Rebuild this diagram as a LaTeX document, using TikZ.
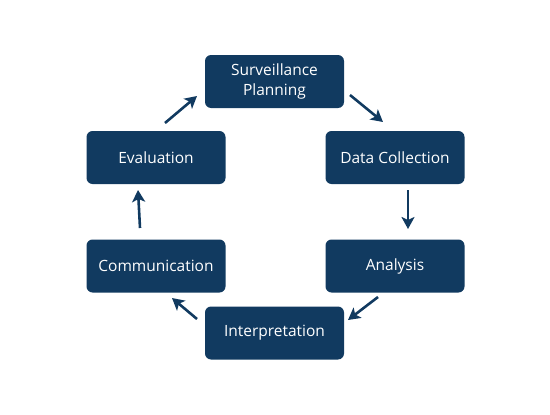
\documentclass[tikz,border=0pt]{standalone}
\usepackage{fontspec}
\setmainfont{Open Sans}
\usetikzlibrary{arrows.meta}
\definecolor{navy}{HTML}{113A60}
\begin{document}
\begin{tikzpicture}[x=1pt,y=-1pt,
  box/.style={draw=none,fill=navy,rounded corners=6pt,minimum width=139pt,minimum height=53pt,text=white,font=\fontsize{15.5}{20}\selectfont,align=center,inner sep=0pt},
  arr/.style={navy,line width=2.6pt,-{Stealth[length=12pt,width=13pt,inset=3pt]}}]
\useasboundingbox (0,0) rectangle (550,415);
\node[box] (sp) at (274.5,81.5) {Surveillance\\Planning};
\node[box] (dc) at (395,157.5) {Data Collection};
\node[box] (an) at (395,266) {Analysis};
\node[box] (in) at (274.5,333) {Interpretation};
\node[box] (co) at (156,266) {Communication};
\node[box] (ev) at (156,157.5) {Evaluation};
\coordinate (a1) at (350,95); \coordinate (b1) at (383,122);
\coordinate (a2) at (408,190); \coordinate (b2) at (408,229);
\coordinate (a3) at (378,297); \coordinate (b3) at (348,320);
\coordinate (a4) at (197,319); \coordinate (b4) at (172,298);
\coordinate (a5) at (140,228); \coordinate (b5) at (138,190);
\coordinate (a6) at (165,123); \coordinate (b6) at (197,96);
\draw[arr] (a1) -- (b1);
\draw[arr] (a2) -- (b2);
\draw[arr] (a3) -- (b3);
\draw[arr] (a4) -- (b4);
\draw[arr] (a5) -- (b5);
\draw[arr] (a6) -- (b6);
\end{tikzpicture}
\end{document}
